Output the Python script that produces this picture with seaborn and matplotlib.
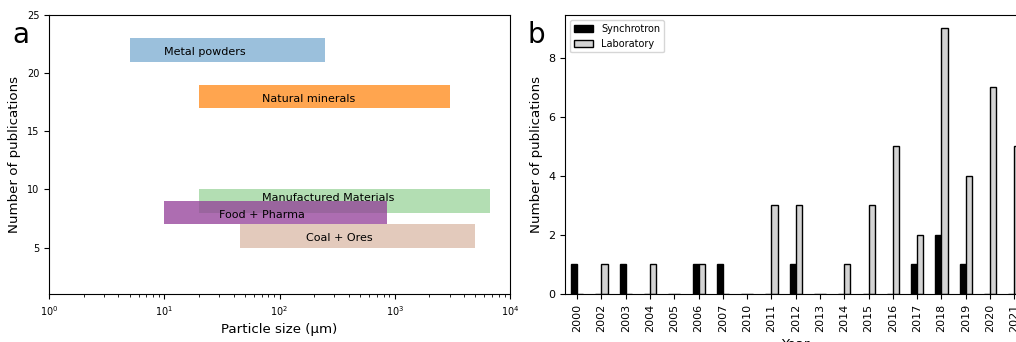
import matplotlib
matplotlib.use("Agg")
import matplotlib.pyplot as plt
import numpy as np
import pandas as pd
import seaborn as sns

# ---- Panel a data ----
materials = ["Metal powders", "Natural minerals", "Manufactured Materials",
             "Food + Pharma", "Coal + Ores"]
size_min = [5, 20, 20, 10, 45]
size_max = [250, 3000, 6700, 850, 5000]
pub_low = [21, 17, 8, 7, 5]
pub_high = [23, 19, 10, 9, 7]
label_x = [10, 70, 70, 30, 170]
label_y = [21.8, 17.8, 9.3, 7.8, 5.8]

# ---- Panel b data ----
years = ["2000", "2002", "2003", "2004", "2005", "2006", "2007", "2010", "2011",
         "2012", "2013", "2014", "2015", "2016", "2017", "2018", "2019", "2020", "2021"]
synchrotron = [1, 0, 1, 0, 0, 1, 1, 0, 0, 1, 0, 0, 0, 0, 1, 2, 1, 0, 0]
laboratory = [0, 1, 0, 1, 0, 1, 0, 0, 3, 3, 0, 1, 3, 5, 2, 9, 4, 7, 5]
sources = ["Synchrotron", "Laboratory"]

bar_colors = ["#9bc0dc", "#ffa54f", "#b3deb3", "#923c97", "#e3cabc"]
bar_alphas = [1, 1, 1, 0.75, 1]

fig = plt.figure(figsize=(10.16, 3.42), dpi=100)
W, H = 1016, 342
ax1 = fig.add_axes([49 / W, (H - 294) / H, 461 / W, 279 / H])
ax2 = fig.add_axes([565 / W, (H - 294) / H, 461.5 / W, 279 / H])

# Panel a
for i, m in enumerate(materials):
    ax1.barh(y=(pub_low[i] + pub_high[i]) / 2, width=size_max[i] - size_min[i],
             left=size_min[i], height=pub_high[i] - pub_low[i],
             color=bar_colors[i], alpha=bar_alphas[i], linewidth=0)
for i, m in enumerate(materials):
    ax1.text(label_x[i], label_y[i], m, ha="left", va="center", fontsize=8)
ax1.set_xscale("log")
ax1.set_xlim(1, 1e4)
ax1.set_ylim(1, 25)
ax1.set_yticks([5, 10, 15, 20, 25])
ax1.tick_params(labelsize=7)
ax1.set_xlabel("Particle size (μm)", fontsize=9.6)
ax1.set_ylabel("Number of publications", fontsize=9.6)

# Panel b
df = pd.DataFrame({
    "Year": years * 2,
    "Count": synchrotron + laboratory,
    "Source": [sources[0]] * len(years) + [sources[1]] * len(years),
})
sns.barplot(data=df, x="Year", y="Count", hue="Source", order=years,
            hue_order=sources, palette=["black", "lightgrey"], width=0.5,
            edgecolor="black", linewidth=1, errorbar=None, ax=ax2)
ax2.set_xlim(-0.5, len(years) - 0.5)
ax2.set_ylim(0, 9.45)
ax2.set_yticks([0, 2, 4, 6, 8])
ax2.tick_params(labelsize=8)
ax2.tick_params(axis="x", rotation=90)
ax2.set_xlabel("Year", fontsize=9.6)
ax2.set_ylabel("Number of publications", fontsize=9.6)
handles, labels = ax2.get_legend_handles_labels()
ax2.legend(handles, labels, loc="upper left", fontsize=7)

fig.text(12 / W, 1 - 43 / H, "a", fontsize=20, va="baseline", ha="left")
fig.text(527 / W, 1 - 43 / H, "b", fontsize=20, va="baseline", ha="left")

fig.savefig("out.png", dpi=100)
